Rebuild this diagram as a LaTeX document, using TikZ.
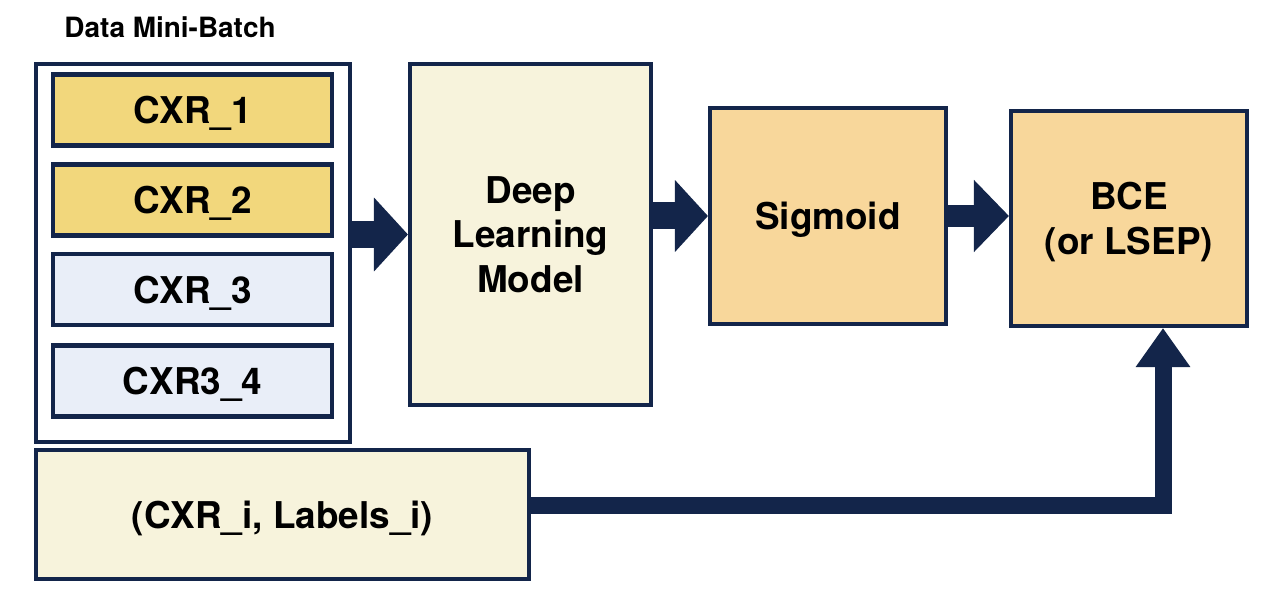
\documentclass[tikz,border=0pt]{standalone}
\usepackage{fontspec}
\setmainfont{TeX Gyre Heros}
\usepackage{tikz}
\usetikzlibrary{arrows.meta,positioning,calc}

\definecolor{navy}{HTML}{13254A}
\definecolor{gold}{HTML}{F2D77C}
\definecolor{paleblue}{HTML}{E9EEF8}
\definecolor{cream}{HTML}{F7F3DC}
\definecolor{peach}{HTML}{F8D79B}

\begin{document}
\begin{tikzpicture}[
blocknode/.style={rectangle, draw=navy, line width=2.3pt, inner sep=0pt, text depth=0pt, align=center, font=\fontsize{21}{25.5}\selectfont\bfseries},
cxrnode/.style={blocknode, minimum width=5.58cm, minimum height=1.42cm},
fatarrow/.style={navy, line width=#1, line cap=butt, line join=miter},
]
\useasboundingbox (0,0) rectangle (25.36,-12.16);

\node[font=\fontsize{15.9}{18}\selectfont\bfseries] (title) at (3.40,-0.54) {Data Mini-Batch};
\node[blocknode, fill=white, minimum width=6.28cm, minimum height=7.56cm] (data) at (3.86,-5.06) {};
\node[cxrnode, fill=gold] (cxr1) at (3.85,-2.20) {CXR\_1};
\node[cxrnode, fill=gold] (cxr2) at (3.85,-4.00) {CXR\_2};
\node[cxrnode, fill=paleblue] (cxr3) at (3.85,-5.79) {CXR\_3};
\node[cxrnode, fill=paleblue] (cxr4) at (3.85,-7.62) {CXR3\_4};

\node[blocknode, fill=cream, minimum width=4.82cm, minimum height=6.82cm] (dlm) at (10.61,-4.69) {Deep\\Learning\\Model};
\node[blocknode, fill=peach, minimum width=4.72cm, minimum height=4.32cm] (sig) at (16.56,-4.32) {Sigmoid};
\node[blocknode, fill=peach, minimum width=4.72cm, minimum height=4.30cm] (bce) at (22.58,-4.37) {BCE\\(or LSEP)};
\node[blocknode, fill=cream, minimum width=9.86cm, minimum height=2.58cm] (lbl) at (5.65,-10.29) {(CXR\_i, Labels\_i)};

\draw[fatarrow=0.54cm, -{Triangle[length=0.68cm, width=1.44cm]}] (data.east |- dlm.west) -- (dlm.west);
\draw[fatarrow=0.54cm, -{Triangle[length=0.66cm, width=1.40cm]}] (dlm.east |- sig.west) -- (sig.west);
\draw[fatarrow=0.44cm, -{Triangle[length=0.70cm, width=1.40cm]}] (sig.east) -- (sig.east -| bce.west);
\draw[fatarrow=0.34cm, -{Triangle[length=0.78cm, width=1.04cm]}] ([yshift=0.17cm]lbl.east) -| ([xshift=0.68cm]bce.south);
\end{tikzpicture}
\end{document}
